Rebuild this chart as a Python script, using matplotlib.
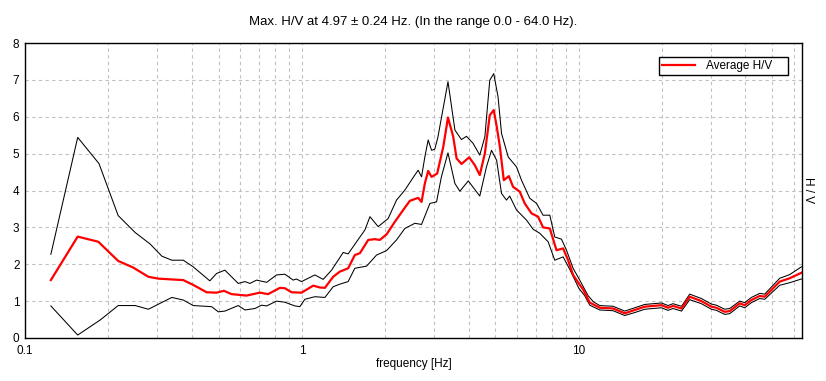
import matplotlib
matplotlib.use("Agg")
import matplotlib.pyplot as plt
from matplotlib.ticker import FixedLocator, NullFormatter

plt.rcParams['font.family'] = ['Liberation Sans', 'DejaVu Sans']

# average H/V curve
f_avg = [0.124, 0.155, 0.184, 0.217, 0.246, 0.279, 0.303, 0.373, 0.405, 0.453,
         0.492, 0.523, 0.557, 0.631, 0.667, 0.705, 0.755, 0.833, 0.868, 0.918,
         0.997, 1.099, 1.161, 1.211, 1.297, 1.371, 1.469, 1.553, 1.620, 1.736,
         1.834, 1.912, 2.022, 2.166, 2.321, 2.454, 2.630, 2.705, 2.780, 2.858,
         2.94, 3.08, 3.24, 3.37, 3.52, 3.62, 3.77, 4.02, 4.21, 4.39,
         4.58, 4.77, 4.93, 5.05, 5.19, 5.36, 5.59, 5.79, 6.12, 6.38,
         6.75, 7.13, 7.43, 7.86, 8.31, 8.78, 9.15, 9.54, 10.08, 10.36,
         10.96, 11.91, 13.30, 14.66, 15.93, 17.31, 19.89, 21.01, 21.90, 23.49,
         25.16, 27.73, 30.13, 31.41, 33.65, 35.08, 38.11, 39.73, 42.03, 45.02,
         46.94, 53.18, 57.78, 63.7]
hv_avg = [1.57, 2.75, 2.61, 2.09, 1.91, 1.66, 1.61, 1.57, 1.44, 1.24,
          1.23, 1.28, 1.19, 1.15, 1.19, 1.23, 1.19, 1.36, 1.35, 1.24,
          1.23, 1.42, 1.37, 1.36, 1.66, 1.80, 1.89, 2.25, 2.30, 2.66,
          2.68, 2.66, 2.81, 3.15, 3.47, 3.72, 3.80, 3.69, 4.19, 4.53,
          4.37, 4.46, 5.18, 5.98, 5.46, 4.87, 4.72, 4.90, 4.69, 4.42,
          5.01, 6.04, 6.18, 5.75, 5.18, 4.28, 4.39, 4.10, 3.97, 3.65,
          3.38, 3.29, 3.00, 2.97, 2.38, 2.43, 2.11, 1.71, 1.44, 1.32,
          0.96, 0.82, 0.80, 0.67, 0.76, 0.85, 0.89, 0.82, 0.87, 0.80,
          1.12, 1.00, 0.85, 0.82, 0.71, 0.73, 0.94, 0.89, 1.03, 1.14,
          1.12, 1.53, 1.62, 1.77]

# upper bound (average + std)
f_up = [0.124, 0.155, 0.185, 0.217, 0.250, 0.283, 0.312, 0.339, 0.373, 0.405,
        0.465, 0.492, 0.527, 0.589, 0.623, 0.649, 0.686, 0.746, 0.810, 0.868,
        0.930, 0.955, 0.997, 1.114, 1.194, 1.280, 1.41, 1.469, 1.576, 1.689,
        1.761, 1.886, 2.049, 2.197, 2.354, 2.558, 2.630, 2.705, 2.780, 2.858,
        2.94, 3.02, 3.10, 3.18, 3.37, 3.57, 3.77, 3.93, 4.15, 4.39,
        4.58, 4.77, 4.93, 5.11, 5.26, 5.56, 5.96, 6.21, 6.65, 7.04,
        7.43, 7.86, 8.19, 8.66, 9.03, 9.54, 10.08, 10.8, 11.3, 11.9,
        13.3, 14.66, 15.93, 17.31, 19.89, 21.0, 21.9, 23.5, 25.16, 27.73,
        30.13, 31.41, 33.65, 35.08, 38.11, 39.73, 42.03, 45.02, 46.94, 53.18,
        57.78, 63.7]
hv_up = [2.27, 5.44, 4.73, 3.32, 2.86, 2.55, 2.22, 2.11, 2.11, 1.93,
         1.55, 1.75, 1.84, 1.48, 1.53, 1.48, 1.57, 1.51, 1.71, 1.73,
         1.57, 1.60, 1.53, 1.71, 1.59, 1.84, 2.32, 2.28, 2.61, 2.93,
         3.29, 3.02, 3.24, 3.74, 4.01, 4.42, 4.55, 4.37, 4.91, 5.37,
         5.09, 5.12, 5.45, 5.91, 6.95, 5.64, 5.38, 5.47, 5.28, 4.96,
         5.46, 6.99, 7.17, 6.54, 5.55, 4.91, 4.64, 4.28, 3.79, 3.65,
         3.33, 3.33, 2.74, 2.68, 2.38, 1.89, 1.57, 1.15, 0.98, 0.88,
         0.86, 0.73, 0.82, 0.91, 0.95, 0.88, 0.93, 0.86, 1.19, 1.07,
         0.92, 0.89, 0.78, 0.80, 1.00, 0.96, 1.10, 1.21, 1.19, 1.62,
         1.72, 1.93]

# lower bound (average - std)
f_lo = [0.124, 0.155, 0.187, 0.217, 0.250, 0.279, 0.339, 0.373, 0.405, 0.472,
        0.499, 0.527, 0.589, 0.623, 0.677, 0.715, 0.746, 0.810, 0.868, 0.943,
        0.983, 1.025, 1.114, 1.211, 1.297, 1.371, 1.469, 1.553, 1.713, 1.861,
        2.022, 2.197, 2.354, 2.558, 2.705, 2.90, 3.064, 3.19, 3.37, 3.57,
        3.72, 3.99, 4.39, 4.64, 4.84, 5.05, 5.26, 5.48, 5.63, 5.96,
        6.47, 6.84, 7.23, 7.75, 8.19, 8.78, 9.28, 10.0, 10.5, 10.96,
        11.9, 13.3, 14.66, 15.93, 17.31, 19.89, 21.0, 21.9, 23.5, 25.16,
        27.73, 30.13, 31.41, 33.65, 35.08, 38.11, 39.73, 42.03, 45.02, 46.94,
        53.18, 57.78, 63.7]
hv_lo = [0.87, 0.08, 0.49, 0.88, 0.88, 0.78, 1.10, 1.03, 0.88, 0.85,
         0.71, 0.73, 0.88, 0.76, 0.80, 0.89, 0.87, 1.00, 0.97, 0.87,
         0.85, 1.05, 1.12, 1.10, 1.39, 1.46, 1.53, 1.89, 1.95, 2.25,
         2.37, 2.66, 2.97, 3.11, 3.08, 3.65, 3.69, 4.37, 5.02, 4.19,
         3.98, 4.26, 3.85, 4.64, 5.09, 4.82, 3.92, 3.74, 3.85, 3.47,
         3.20, 2.95, 2.84, 2.61, 2.11, 2.20, 1.86, 1.35, 1.15, 0.89,
         0.76, 0.74, 0.61, 0.69, 0.78, 0.82, 0.75, 0.80, 0.73, 1.04,
         0.93, 0.78, 0.75, 0.64, 0.66, 0.87, 0.82, 0.96, 1.07, 1.05,
         1.43, 1.50, 1.60]

x_ticks = [0.1, 1, 10]
x_ticklabels = ['0.1', '1', '10']
y_ticks = [0, 1, 2, 3, 4, 5, 6, 7, 8]

fig = plt.figure(figsize=(8.26, 3.81), dpi=100)
ax = fig.add_axes([25/826, 43/381, 777/826, 295/381])

ax.plot(f_up, hv_up, color='black', lw=0.75)
ax.plot(f_lo, hv_lo, color='black', lw=0.75)
ax.plot(f_avg, hv_avg, color='#ff0000', lw=1.6, label='Average H/V    ')

ax.set_xscale('log')
ax.set_xlim(0.1, 64)
ax.set_ylim(0, 8)
ax.set_xticks(x_ticks)
ax.set_xticklabels(x_ticklabels)
minor = [m * d for d in (0.1, 1, 10) for m in range(2, 10) if m * d < 64]
ax.xaxis.set_minor_locator(FixedLocator(minor))
ax.xaxis.set_minor_formatter(NullFormatter())
ax.set_yticks(y_ticks)
ax.tick_params(which='both', length=0, labelsize=8.5, colors='black')
ax.tick_params(axis='x', pad=5)
ax.tick_params(axis='y', pad=4)

ax.grid(True, which='both', color='#c0c0c0', linestyle=(0, (3, 3)), lw=0.8)
for s in ax.spines.values():
    s.set_linewidth(1.0)
    s.set_color('black')

ax.set_xlabel('frequency [Hz]', fontsize=8.5, labelpad=1)
ax.set_title('Max. H/V at 4.97 \u00b1 0.24 Hz. (In the range 0.0 - 64.0 Hz).',
             fontsize=9.5, pad=13)
ax.text(1 + 6/777, 0.5, 'H / V', transform=ax.transAxes, rotation=270,
        ha='center', va='center', fontsize=8.5)

leg = ax.legend(loc='upper right', bbox_to_anchor=(788/826, 1 - 57/381),
                bbox_transform=fig.transFigure, borderaxespad=0,
                fontsize=8.5, fancybox=False, framealpha=1,
                handlelength=2.8, borderpad=0.25, handletextpad=0.9)
leg.get_frame().set_edgecolor('black')
leg.get_frame().set_linewidth(1.0)

fig.savefig('out.png', dpi=100)
